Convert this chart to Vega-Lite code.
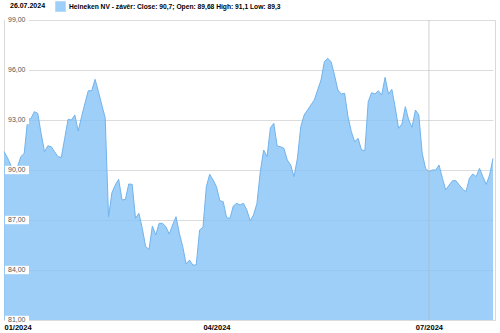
{
  "$schema": "https://vega.github.io/schema/vega-lite/v6.json",
  "width": 491,
  "height": 300,
  "autosize": {"type": "none"},
  "padding": {"left": 4, "top": 20, "right": 5, "bottom": 13},
  "background": "white",
  "config": {
    "font": "Liberation Sans",
    "view": {"stroke": "#d9d9d9"}
  },
  "datasets": {
    "px": [
      {"d": "2024-01-02", "c": 91.1}, {"d": "2024-01-03", "c": 90.75}, {"d": "2024-01-04", "c": 90.3}, {"d": "2024-01-05", "c": 89.75},
      {"d": "2024-01-08", "c": 90.2}, {"d": "2024-01-09", "c": 90.8}, {"d": "2024-01-10", "c": 91.0}, {"d": "2024-01-11", "c": 93.0}, {"d": "2024-01-12", "c": 93.1},
      {"d": "2024-01-15", "c": 93.5}, {"d": "2024-01-16", "c": 93.4}, {"d": "2024-01-17", "c": 92.2}, {"d": "2024-01-18", "c": 91.1}, {"d": "2024-01-19", "c": 91.45},
      {"d": "2024-01-22", "c": 91.4}, {"d": "2024-01-23", "c": 91.1}, {"d": "2024-01-24", "c": 90.8}, {"d": "2024-01-25", "c": 90.76}, {"d": "2024-01-26", "c": 91.9},
      {"d": "2024-01-29", "c": 93.04}, {"d": "2024-01-30", "c": 93.0}, {"d": "2024-01-31", "c": 93.3}, {"d": "2024-02-01", "c": 92.34}, {"d": "2024-02-02", "c": 93.2},
      {"d": "2024-02-05", "c": 94.0}, {"d": "2024-02-06", "c": 94.76}, {"d": "2024-02-07", "c": 94.75}, {"d": "2024-02-08", "c": 95.44}, {"d": "2024-02-09", "c": 94.7},
      {"d": "2024-02-12", "c": 93.9}, {"d": "2024-02-13", "c": 93.14}, {"d": "2024-02-14", "c": 87.2}, {"d": "2024-02-15", "c": 88.64}, {"d": "2024-02-16", "c": 89.1},
      {"d": "2024-02-19", "c": 89.44}, {"d": "2024-02-20", "c": 88.2}, {"d": "2024-02-21", "c": 88.24}, {"d": "2024-02-22", "c": 89.16}, {"d": "2024-02-23", "c": 89.14},
      {"d": "2024-02-26", "c": 87.1}, {"d": "2024-02-27", "c": 87.4}, {"d": "2024-02-28", "c": 86.5}, {"d": "2024-02-29", "c": 85.4}, {"d": "2024-03-01", "c": 85.24},
      {"d": "2024-03-04", "c": 86.64}, {"d": "2024-03-05", "c": 86.1}, {"d": "2024-03-06", "c": 86.8}, {"d": "2024-03-07", "c": 86.8}, {"d": "2024-03-08", "c": 86.6},
      {"d": "2024-03-11", "c": 86.16}, {"d": "2024-03-12", "c": 86.7}, {"d": "2024-03-13", "c": 87.2}, {"d": "2024-03-14", "c": 86.2}, {"d": "2024-03-15", "c": 85.4},
      {"d": "2024-03-18", "c": 84.36}, {"d": "2024-03-19", "c": 84.6}, {"d": "2024-03-20", "c": 84.3}, {"d": "2024-03-21", "c": 84.3}, {"d": "2024-03-22", "c": 86.4},
      {"d": "2024-03-25", "c": 86.56}, {"d": "2024-03-26", "c": 89.0}, {"d": "2024-03-27", "c": 89.74}, {"d": "2024-03-28", "c": 89.4},
      {"d": "2024-04-02", "c": 89.0}, {"d": "2024-04-03", "c": 88.16}, {"d": "2024-04-04", "c": 88.1}, {"d": "2024-04-05", "c": 87.14},
      {"d": "2024-04-08", "c": 87.1}, {"d": "2024-04-09", "c": 87.84}, {"d": "2024-04-10", "c": 88.0}, {"d": "2024-04-11", "c": 87.9}, {"d": "2024-04-12", "c": 88.0},
      {"d": "2024-04-15", "c": 87.6}, {"d": "2024-04-16", "c": 86.96}, {"d": "2024-04-17", "c": 87.3}, {"d": "2024-04-18", "c": 88.0}, {"d": "2024-04-19", "c": 89.9},
      {"d": "2024-04-22", "c": 91.2}, {"d": "2024-04-23", "c": 90.8}, {"d": "2024-04-24", "c": 92.54}, {"d": "2024-04-25", "c": 92.8}, {"d": "2024-04-26", "c": 91.44},
      {"d": "2024-04-29", "c": 91.4}, {"d": "2024-04-30", "c": 91.3}, {"d": "2024-05-02", "c": 90.6}, {"d": "2024-05-03", "c": 90.3},
      {"d": "2024-05-06", "c": 89.6}, {"d": "2024-05-07", "c": 90.7}, {"d": "2024-05-08", "c": 92.6}, {"d": "2024-05-09", "c": 93.3}, {"d": "2024-05-10", "c": 93.6},
      {"d": "2024-05-13", "c": 93.9}, {"d": "2024-05-14", "c": 94.2}, {"d": "2024-05-15", "c": 94.8}, {"d": "2024-05-16", "c": 95.4}, {"d": "2024-05-17", "c": 96.5},
      {"d": "2024-05-20", "c": 96.7}, {"d": "2024-05-21", "c": 96.5}, {"d": "2024-05-22", "c": 95.7}, {"d": "2024-05-23", "c": 94.8}, {"d": "2024-05-24", "c": 94.56},
      {"d": "2024-05-27", "c": 94.6}, {"d": "2024-05-28", "c": 93.2}, {"d": "2024-05-29", "c": 92.3}, {"d": "2024-05-30", "c": 91.7}, {"d": "2024-05-31", "c": 91.9},
      {"d": "2024-06-03", "c": 91.2}, {"d": "2024-06-04", "c": 91.16}, {"d": "2024-06-05", "c": 94.1}, {"d": "2024-06-06", "c": 94.64}, {"d": "2024-06-07", "c": 94.56},
      {"d": "2024-06-10", "c": 94.76}, {"d": "2024-06-11", "c": 94.5}, {"d": "2024-06-12", "c": 95.56}, {"d": "2024-06-13", "c": 94.56}, {"d": "2024-06-14", "c": 94.84},
      {"d": "2024-06-17", "c": 93.76}, {"d": "2024-06-18", "c": 92.5}, {"d": "2024-06-19", "c": 92.76}, {"d": "2024-06-20", "c": 93.8}, {"d": "2024-06-21", "c": 93.0},
      {"d": "2024-06-24", "c": 92.56}, {"d": "2024-06-25", "c": 93.6}, {"d": "2024-06-26", "c": 93.3}, {"d": "2024-06-27", "c": 91.0}, {"d": "2024-06-28", "c": 90.1},
      {"d": "2024-07-01", "c": 89.9}, {"d": "2024-07-02", "c": 90.0}, {"d": "2024-07-03", "c": 90.0}, {"d": "2024-07-04", "c": 90.3}, {"d": "2024-07-05", "c": 89.5},
      {"d": "2024-07-08", "c": 88.8}, {"d": "2024-07-09", "c": 89.1}, {"d": "2024-07-10", "c": 89.36}, {"d": "2024-07-11", "c": 89.36}, {"d": "2024-07-12", "c": 89.1},
      {"d": "2024-07-15", "c": 88.85}, {"d": "2024-07-16", "c": 88.7}, {"d": "2024-07-17", "c": 89.5}, {"d": "2024-07-18", "c": 89.76}, {"d": "2024-07-19", "c": 89.6},
      {"d": "2024-07-22", "c": 90.1}, {"d": "2024-07-23", "c": 89.6}, {"d": "2024-07-24", "c": 89.14}, {"d": "2024-07-25", "c": 89.7}, {"d": "2024-07-26", "c": 90.7}
    ],
    "ticks": [
      {"v": 81, "t": "81,00"}, {"v": 84, "t": "84,00"}, {"v": 87, "t": "87,00"}, {"v": 90, "t": "90,00"},
      {"v": 93, "t": "93,00"}, {"v": 96, "t": "96,00"}, {"v": 99, "t": "99,00"}
    ],
    "vline": [{"d": "2024-07-01"}]
  },
  "layer": [
    {
      "data": {"name": "px"},
      "mark": {"type": "area", "fillOpacity": 0.8},
      "encoding": {
        "x": {
          "field": "d", "type": "ordinal",
          "scale": {"type": "point", "padding": 0, "range": [0, 489]},
          "axis": {
            "values": ["2024-01-02", "2024-04-02", "2024-07-01"],
            "labelExpr": "slice(datum.value, 5, 7) + '/' + slice(datum.value, 0, 4)",
            "labelAngle": 0, "labelFontSize": 7.5, "labelFontWeight": "bold", "labelColor": "black",
            "labelFlush": 3, "labelPadding": 3, "domain": false, "ticks": false, "title": null,
            "grid": false, "zindex": 1
          }
        },
        "y": {
          "field": "c", "type": "quantitative",
          "scale": {"domain": [81, 99], "nice": false, "zero": false},
          "axis": {"values": [81, 84, 87, 90, 93, 96, 99], "labels": false, "ticks": false, "domain": false, "title": null, "grid": true, "gridColor": "#dcdcdc"}
        },
        "y2": {"datum": 81},
        "color": {
          "datum": "Heineken NV - závěr: Close: 90,7; Open: 89,68 High: 91,1 Low: 89,3",
          "scale": {"range": ["#84c3f6"]},
          "legend": {
            "orient": "none", "legendX": 6, "legendY": -19, "direction": "horizontal",
            "title": "26.07.2024", "titleOrient": "left", "titleFontSize": 7, "titleFontWeight": "bold", "titleColor": "#000", "titlePadding": 9,
            "labelFontSize": 6.7, "labelFontWeight": "bold", "labelColor": "#000", "labelLimit": 400, "labelOffset": 3,
            "symbolType": "square", "symbolSize": 110, "symbolStrokeWidth": 0, "symbolOpacity": 0.8
          }
        }
      }
    },
    {
      "data": {"name": "px"},
      "mark": {"type": "line", "color": "#72b3ec", "strokeWidth": 1},
      "encoding": {
        "x": {"field": "d", "type": "ordinal"},
        "y": {"field": "c", "type": "quantitative"}
      }
    },
    {
      "data": {"name": "vline"},
      "mark": {"type": "rule", "color": "#b0b4b8", "strokeWidth": 1, "opacity": 0.6},
      "encoding": {
        "x": {"field": "d", "type": "ordinal"}
      }
    },
    {
      "data": {"name": "ticks"},
      "mark": {"type": "point", "shape": "M0,-0.35H2V0.35H0Z", "filled": true, "color": "white", "opacity": 1, "size": 576, "xOffset": 1},
      "encoding": {
        "x": {"datum": "2024-01-02", "type": "ordinal"},
        "y": {"field": "v", "type": "quantitative"}
      }
    },
    {
      "data": {"name": "ticks"},
      "mark": {"type": "text", "align": "left", "baseline": "middle", "dx": 4, "fontSize": 7, "color": "#555555"},
      "encoding": {
        "x": {"datum": "2024-01-02", "type": "ordinal"},
        "y": {"field": "v", "type": "quantitative"},
        "text": {"field": "t"}
      }
    }
  ]
}
